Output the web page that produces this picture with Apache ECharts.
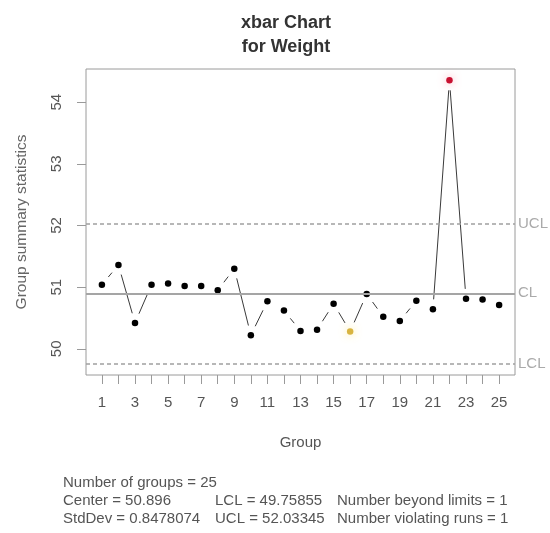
<!DOCTYPE html>
<html>
<head>
<meta charset="utf-8">
<script src="https://cdn.jsdelivr.net/npm/echarts@6/dist/echarts.min.js"></script>
<style>
  html, body { margin: 0; padding: 0; background: #ffffff; }
  #chart { width: 550px; height: 533px; }
</style>
</head>
<body>
<div id="chart"></div>
<script>
// Group numbers and the mean weight of each group
const groups = [1, 2, 3, 4, 5, 6, 7, 8, 9, 10, 11, 12, 13, 14, 15, 16, 17, 18, 19, 20, 21, 22, 23, 24, 25];
const groupMeans = [51.04, 51.36, 50.42, 51.04, 51.06, 51.02, 51.02, 50.95, 51.30, 50.22,
                    50.77, 50.62, 50.29, 50.31, 50.73, 50.28, 50.89, 50.52, 50.45, 50.78,
                    50.64, 54.355, 50.81, 50.80, 50.71];

// Control limits and summary statistics
const centerValue = 50.896;
const lclValue = 49.75855;
const uclValue = 52.03345;
const stdDevValue = 0.8478074;
const beyondLimitGroups = [22];
const violatingRunGroups = [16];

// Tick marks and tick labels
const xTickValues = groups;
const xLabelValues = [1, 3, 5, 7, 9, 11, 13, 15, 17, 19, 21, 23, 25];
const yTickValues = [50, 51, 52, 53, 54];

const FONT = '"Liberation Sans", Arial, Helvetica, sans-serif';
const TEXT_COLOR = '#555555';
const FRAME_COLOR = '#9a9a9a';
const STATS_FONT = '15px ' + FONT;

// Axis ranges padded by 4% on each side
const yLow = Math.min(lclValue, ...groupMeans);
const yHigh = Math.max(uclValue, ...groupMeans);
const yPad = (yHigh - yLow) * 0.04;
const xPad = (groups[groups.length - 1] - groups[0]) * 0.04;

// Line pieces between consecutive groups
const segments = [];
for (let i = 0; i < groups.length - 1; i++) {
  segments.push([groups[i], groupMeans[i], groups[i + 1], groupMeans[i + 1]]);
}

// Point markers, with out-of-limit and run-rule violations highlighted
const pointData = groups.map((g, i) => {
  const item = { value: [g, groupMeans[i]] };
  if (beyondLimitGroups.includes(g)) {
    item.itemStyle = { color: '#c81030', shadowBlur: 9, shadowColor: 'rgba(255,90,120,0.55)' };
  } else if (violatingRunGroups.includes(g)) {
    item.itemStyle = { color: '#d8b440', shadowBlur: 9, shadowColor: 'rgba(255,225,90,0.7)' };
  }
  return item;
});

const GAP = 10; // blank space left around each point on the connecting line

const chart = echarts.init(document.getElementById('chart'), null, { renderer: 'canvas' });

chart.setOption({
  animation: false,
  backgroundColor: '#ffffff',
  grid: {
    left: 86, top: 69, width: 429, height: 306,
    show: true, borderColor: FRAME_COLOR, borderWidth: 1, backgroundColor: 'transparent'
  },
  xAxis: {
    type: 'value',
    min: groups[0] - xPad,
    max: groups[groups.length - 1] + xPad,
    name: 'Group',
    nameLocation: 'middle',
    nameGap: 60,
    nameTextStyle: { color: TEXT_COLOR, fontSize: 15, fontFamily: FONT },
    axisLine: { show: false },
    splitLine: { show: false },
    axisTick: { show: true, length: 9, customValues: xTickValues, lineStyle: { color: FRAME_COLOR } },
    axisLabel: { customValues: xLabelValues, margin: 20, color: TEXT_COLOR, fontSize: 15, fontFamily: FONT }
  },
  yAxis: {
    type: 'value',
    min: yLow - yPad,
    max: yHigh + yPad,
    name: 'Group summary statistics',
    nameLocation: 'middle',
    nameGap: 56,
    nameTextStyle: { color: '#666666', fontSize: 15.5, fontFamily: FONT },
    axisLine: { show: false },
    splitLine: { show: false },
    axisTick: { show: true, length: 9, customValues: yTickValues, lineStyle: { color: FRAME_COLOR } },
    axisLabel: { customValues: yTickValues, rotate: 90, margin: 22, color: TEXT_COLOR, fontSize: 15, fontFamily: FONT }
  },
  graphic: [
    { type: 'text', x: 286, y: 23, style: { text: 'xbar Chart', font: 'bold 18px ' + FONT, fill: '#333333', align: 'center', verticalAlign: 'middle' } },
    { type: 'text', x: 286, y: 47, style: { text: 'for Weight', font: 'bold 18px ' + FONT, fill: '#333333', align: 'center', verticalAlign: 'middle' } },
    { type: 'text', x: 63, y: 483, style: { text: 'Number of groups = ' + groups.length, font: STATS_FONT, fill: TEXT_COLOR, verticalAlign: 'middle' } },
    { type: 'text', x: 63, y: 501, style: { text: 'Center = ' + centerValue, font: STATS_FONT, fill: TEXT_COLOR, verticalAlign: 'middle' } },
    { type: 'text', x: 63, y: 519, style: { text: 'StdDev = ' + stdDevValue, font: STATS_FONT, fill: TEXT_COLOR, verticalAlign: 'middle' } },
    { type: 'text', x: 215, y: 501, style: { text: 'LCL = ' + lclValue, font: STATS_FONT, fill: TEXT_COLOR, verticalAlign: 'middle' } },
    { type: 'text', x: 215, y: 519, style: { text: 'UCL = ' + uclValue, font: STATS_FONT, fill: TEXT_COLOR, verticalAlign: 'middle' } },
    { type: 'text', x: 337, y: 501, style: { text: 'Number beyond limits = ' + beyondLimitGroups.length, font: STATS_FONT, fill: TEXT_COLOR, verticalAlign: 'middle' } },
    { type: 'text', x: 337, y: 519, style: { text: 'Number violating runs = ' + violatingRunGroups.length, font: STATS_FONT, fill: TEXT_COLOR, verticalAlign: 'middle' } }
  ],
  series: [
    {
      // connecting line, broken open around each point
      type: 'custom',
      data: segments,
      encode: { x: [0, 2], y: [1, 3] },
      silent: true,
      z: 2,
      renderItem: function (params, api) {
        const p0 = api.coord([api.value(0), api.value(1)]);
        const p1 = api.coord([api.value(2), api.value(3)]);
        const dx = p1[0] - p0[0];
        const dy = p1[1] - p0[1];
        const len = Math.sqrt(dx * dx + dy * dy);
        if (len <= 2 * GAP) return null;
        const ux = dx / len, uy = dy / len;
        return {
          type: 'line',
          shape: { x1: p0[0] + ux * GAP, y1: p0[1] + uy * GAP, x2: p1[0] - ux * GAP, y2: p1[1] - uy * GAP },
          style: { stroke: '#3a3a3a', lineWidth: 1 }
        };
      }
    },
    {
      type: 'scatter',
      data: pointData,
      symbol: 'circle',
      symbolSize: 6.5,
      itemStyle: { color: '#000000', opacity: 1 },
      z: 4,
      markLine: {
        silent: true,
        symbol: 'none',
        animation: false,
        label: { show: true, position: 'end', distance: 3, color: '#aaaaaa', fontSize: 15, fontFamily: FONT, formatter: p => p.name },
        data: [
          { name: 'CL', yAxis: centerValue, lineStyle: { type: 'solid', width: 2, color: '#a5a5a5' } },
          { name: 'UCL', yAxis: uclValue, lineStyle: { type: [4, 3], width: 1.6, color: '#a0a0a0' } },
          { name: 'LCL', yAxis: lclValue, lineStyle: { type: [4, 3], width: 1.6, color: '#a0a0a0' } }
        ]
      }
    }
  ]
});
</script>
</body>
</html>
